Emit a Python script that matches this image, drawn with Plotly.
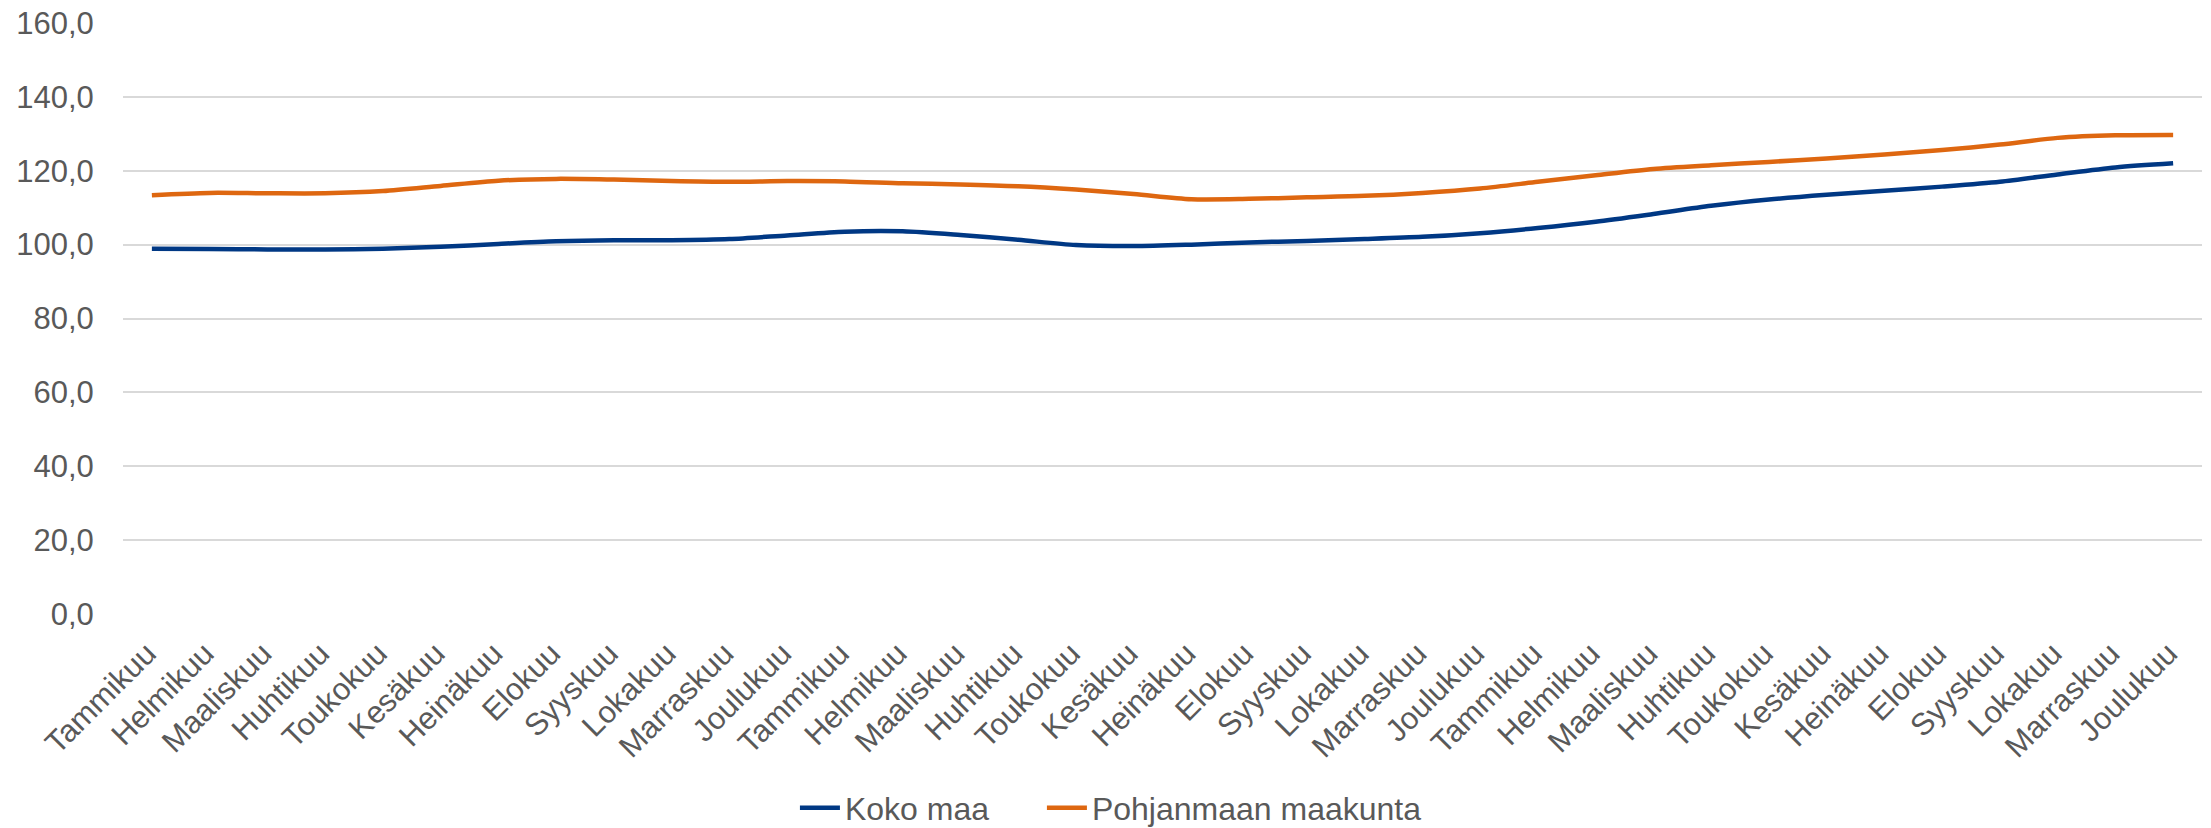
import plotly.graph_objects as go

months = ["Tammikuu", "Helmikuu", "Maaliskuu", "Huhtikuu", "Toukokuu", "Kesäkuu",
          "Heinäkuu", "Elokuu", "Syyskuu", "Lokakuu", "Marraskuu", "Joulukuu"]
tick_labels = months * 3

koko_maa = [98.9, 98.8, 98.7, 98.7, 98.9, 99.4, 100.2, 100.9, 101.2, 101.2, 101.5, 102.5,
            103.5, 103.6, 102.6, 101.3, 99.9, 99.6, 100.0, 100.6, 101.0, 101.5, 102.1, 103.1,
            104.5, 106.2, 108.3, 110.5, 112.2, 113.5, 114.6, 115.7, 117.0, 119.0, 120.9, 122.0]

pohjanmaa = [113.4, 114.0, 113.9, 113.9, 114.5, 115.9, 117.3, 117.8, 117.6, 117.2, 117.0, 117.2,
             117.1, 116.6, 116.3, 115.8, 114.9, 113.7, 112.3, 112.4, 112.8, 113.2, 114.0, 115.2,
             117.0, 118.8, 120.5, 121.5, 122.4, 123.3, 124.4, 125.6, 127.1, 128.9, 129.6, 129.7]

y_ticks = [0, 20, 40, 60, 80, 100, 120, 140, 160]
y_tick_text = ["0,0", "20,0", "40,0", "60,0", "80,0", "100,0", "120,0", "140,0", "160,0"]

x = list(range(len(tick_labels)))
FONT = "Arial, 'Liberation Sans', sans-serif"
GRAY = "#595959"

fig = go.Figure()
fig.add_trace(go.Scatter(
    x=x, y=koko_maa, name="Koko maa", mode="lines", legend="legend",
    line=dict(color="#003884", width=4.5, shape="spline", smoothing=0.8),
))
fig.add_trace(go.Scatter(
    x=x, y=pohjanmaa, name="Pohjanmaan maakunta", mode="lines", legend="legend2",
    line=dict(color="#DE6710", width=4.5, shape="spline", smoothing=0.8),
))

legend_common = dict(
    orientation="h", xanchor="left", y=-0.328, yanchor="middle",
    font=dict(family=FONT, size=32, color=GRAY), itemwidth=40,
    bgcolor="rgba(0,0,0,0)",
)

fig.update_layout(
    width=2211, height=828,
    margin=dict(l=123, r=9, t=23, b=214, autoexpand=False),
    paper_bgcolor="white", plot_bgcolor="white",
    font=dict(family=FONT, size=31, color=GRAY),
    showlegend=True,
    legend=dict(x=0.3232, **legend_common),
    legend2=dict(x=0.4420, **legend_common),
    xaxis=dict(
        range=[-0.5, len(x) - 0.5], automargin=False,
        tickmode="array", tickvals=x, ticktext=tick_labels,
        tickangle=-45, showgrid=False, zeroline=False, showline=False,
        ticks="outside", ticklen=8, tickcolor="rgba(0,0,0,0)",
        ticklabelshift=-5,
        tickfont=dict(family=FONT, size=31, color=GRAY),
    ),
    yaxis=dict(
        range=[0, 160], automargin=False,
        tickmode="array", tickvals=y_ticks, ticktext=y_tick_text,
        showgrid=True, gridcolor="#D9D9D9", gridwidth=2,
        zeroline=False, showline=False,
        ticks="outside", ticklen=22, tickcolor="rgba(0,0,0,0)",
        tickfont=dict(family=FONT, size=31, color=GRAY),
    ),
)

fig.write_html("out.html", config={"displayModeBar": False},
               post_script="document.body.style.margin='0';")
